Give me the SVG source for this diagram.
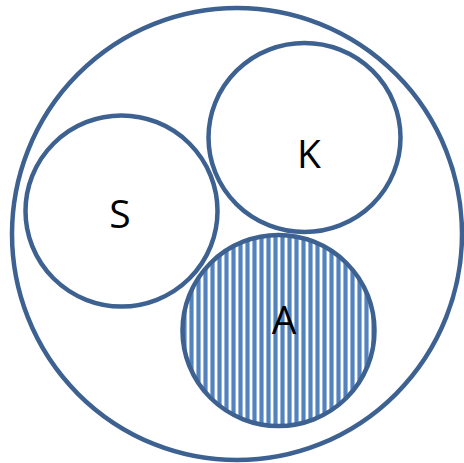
<svg xmlns="http://www.w3.org/2000/svg" width="464" height="463" viewBox="0 0 464 463">
<style>
.c{fill:none;stroke:#3d6190;stroke-width:4.5}
.w{fill:#fff;stroke:#3d6190;stroke-width:4.5}
.t{font-family:"Open Sans","Liberation Sans",sans-serif;font-size:39px;fill:#000;text-anchor:middle}
</style>
<defs>
<pattern id="vs" patternUnits="userSpaceOnUse" x="0" y="0" width="7" height="10">
<rect x="0" y="0" width="7" height="10" fill="#fff"/>
<rect x="0" y="0" width="5" height="10" fill="#b9cde6"/>
<rect x="0.7" y="0" width="3.6" height="10" fill="#5383bf"/>
</pattern>
</defs>
<rect width="464" height="463" fill="#fff"/>
<g id="outer"><ellipse class="c" cx="237" cy="234" rx="225" ry="226"/></g>
<g id="S"><ellipse class="w" cx="121.5" cy="211" rx="96" ry="95.5"/><text class="t" x="120" y="228">S</text></g>
<g id="K"><ellipse class="w" cx="304.5" cy="137.5" rx="96" ry="94.5"/><text class="t" x="309" y="168">K</text></g>
<g id="A"><ellipse cx="278.5" cy="330.5" rx="96" ry="95.5" fill="url(#vs)" stroke="#3d6190" stroke-width="4.5"/><text class="t" x="284" y="334">A</text></g>
<g id="connectors"/>
</svg>
